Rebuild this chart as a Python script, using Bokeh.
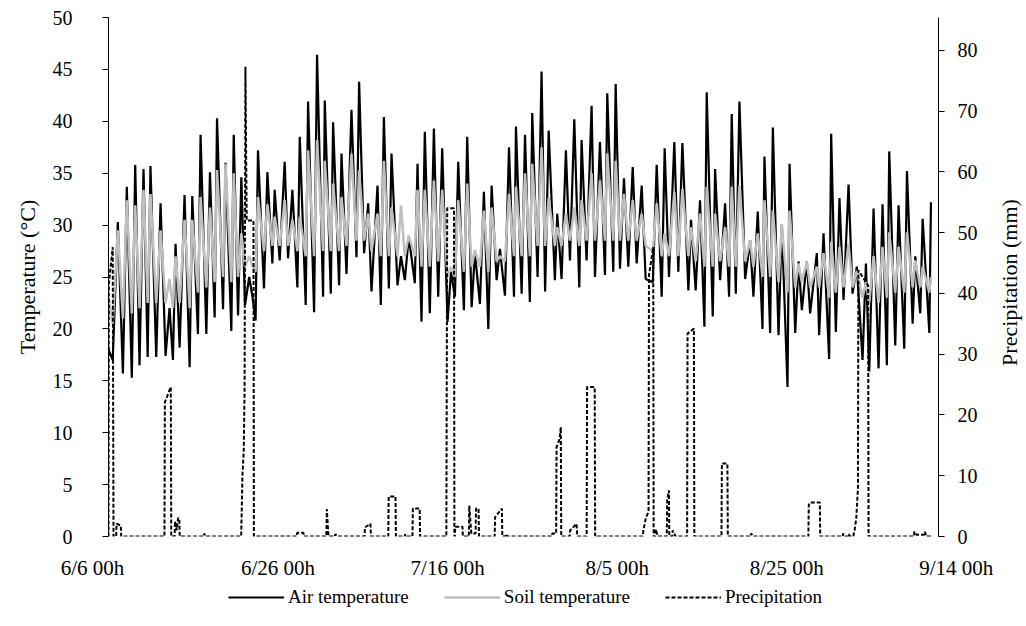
import math
from bokeh.plotting import figure
from bokeh.layouts import column, row
from bokeh.models import Range1d, LinearAxis, FixedTicker, Legend, LegendItem, ColumnDataSource
from bokeh.core.properties import value
from bokeh.embed import file_html
from bokeh.resources import INLINE

# time in days since 6/6 00h (extremes of the daily cycle)
t_days = [0.0, 0.5, 1.1, 1.7, 2.16, 2.75, 3.15, 3.66, 4.13, 4.62, 4.95, 5.63, 6.14, 6.73, 7.2, 7.6,
          7.91, 8.39, 8.97, 9.57, 9.88, 10.55, 10.86, 11.54, 11.97, 12.52, 12.8, 13.51, 13.8, 14.49,
          14.77, 15.28, 15.67, 16.1, 16.6, 17.0, 17.35, 17.63, 18.34, 18.74, 19.33, 19.6, 20.19, 20.78,
          21.18, 21.69, 22.28, 22.56, 23.26, 23.54, 24.25, 24.6, 25.31, 25.51, 26.22, 26.49, 27.2, 27.48,
          28.07, 28.66, 29.25, 29.56, 30.15, 30.63, 31.02, 31.73, 32.12, 32.48, 33.07, 33.38, 34.09, 34.5,
          34.95, 35.42, 36.13, 36.45, 36.92, 37.31, 37.9, 38.38, 38.89, 39.36, 39.99, 40.4, 40.86, 41.25,
          41.92, 42.31, 42.83, 43.22, 43.81, 44.28, 44.8, 45.19, 45.78, 46.17, 46.76, 47.24, 47.83, 48.06,
          48.73, 49.13, 49.7, 49.98, 50.61, 51.08, 51.5, 51.92, 52.65, 52.93, 53.44, 53.95, 54.43, 54.94,
          55.53, 55.8, 56.39, 56.98, 57.38, 57.97, 58.56, 58.83, 59.54, 59.82, 60.33, 60.8, 61.31, 61.83,
          62.3, 62.89, 63.36, 64.2, 64.66, 65.25, 65.6, 66.11, 66.74, 67.21, 67.69, 68.4, 68.71, 69.26,
          69.77, 70.29, 70.56, 71.27, 71.55, 72.14, 72.73, 73.2, 73.51, 73.99, 74.42, 75.09, 75.68, 76.07,
          76.58, 77.14, 77.37, 78.04, 78.36, 79.03, 79.42, 80.09, 80.33, 81.0, 81.39, 81.78, 82.37, 82.76,
          83.55, 83.82, 84.34, 85.0, 85.24, 85.79, 86.22, 86.7, 87.29, 87.76, 88.27, 88.94, 89.34, 89.73,
          90.24, 90.83, 91.3, 91.81, 92.09, 92.8, 93.19, 93.86, 94.18, 94.85, 95.16, 95.75, 96.03, 96.82,
          97.01]

air_temp = [18.0, 17.0, 30.3, 15.7, 33.7, 15.3, 35.8, 16.5, 35.4, 17.3, 35.7, 17.3, 32.1, 17.4, 22.0, 17.0,
            28.2, 18.2, 32.9, 16.3, 32.8, 19.5, 38.7, 19.5, 35.1, 21.1, 40.3, 21.9, 36.0, 19.8,
            38.7, 21.3, 34.6, 22.3, 25.0, 23.0, 20.8, 37.2, 23.9, 35.1, 26.3, 33.4, 26.6, 36.1,
            26.8, 33.4, 24.0, 38.5, 22.3, 41.9, 21.6, 46.4, 23.1, 42.0, 23.4, 39.9, 24.2, 36.9,
            25.3, 41.1, 26.9, 43.8, 27.3, 32.1, 23.6, 33.8, 22.3, 40.4, 23.9, 36.9, 24.2, 27.0,
            24.7, 28.9, 24.4, 35.9, 20.7, 39.0, 21.5, 39.3, 23.1, 37.4, 20.7, 25.5, 23.1, 36.1,
            21.8, 38.5, 22.1, 27.3, 22.4, 33.2, 20.0, 33.8, 24.7, 27.7, 23.2, 37.5, 23.1, 39.5,
            23.4, 38.7, 22.6, 40.8, 25.0, 44.8, 23.6, 39.1, 24.7, 31.1, 24.8, 37.2, 26.6, 40.2,
            24.0, 38.2, 26.6, 41.5, 25.0, 38.0, 25.2, 42.7, 25.5, 43.6, 25.8, 34.5, 26.0, 35.6,
            26.3, 33.8, 24.8, 24.5, 35.8, 23.1, 37.4, 25.0, 38.0, 25.5, 37.9, 23.7, 30.5, 23.7,
            32.4, 20.2, 42.8, 21.2, 35.4, 24.7, 32.1, 23.1, 40.7, 23.4, 41.9, 24.8, 28.5, 23.1,
            31.3, 20.0, 36.6, 19.6, 39.4, 19.4, 30.1, 14.4, 35.9, 19.6, 26.5, 21.8, 26.5, 21.5,
            27.3, 19.4, 29.2, 17.1, 38.8, 19.7, 32.6, 22.8, 33.9, 23.4, 26.0, 17.0, 26.3, 15.9,
            31.6, 16.2, 32.0, 16.5, 37.1, 18.4, 31.9, 18.1, 35.2, 20.5, 27.0, 21.5, 30.6, 19.6,
            32.2]

soil_temp = [23.0, 20.5, 29.5, 21.0, 32.4, 21.5, 31.9, 22.0, 33.4, 22.5, 33.0, 22.5, 29.5, 22.5, 24.8, 22.0,
             27.0, 22.5, 30.5, 22.0, 30.5, 23.5, 32.7, 24.0, 31.7, 24.5, 35.3, 25.0, 35.9, 24.5,
             35.0, 25.0, 29.2, 26.0, 27.0, 26.0, 25.5, 32.7, 27.5, 32.0, 28.0, 30.8, 28.0, 32.4,
             28.0, 30.5, 27.5, 30.8, 27.0, 37.2, 27.0, 38.2, 27.5, 36.2, 27.5, 34.0, 27.5, 32.7,
             28.0, 36.9, 28.5, 35.3, 28.5, 31.1, 27.5, 31.1, 27.0, 36.2, 27.0, 31.7, 27.0, 31.9,
             27.0, 29.0, 27.0, 33.4, 26.0, 33.4, 26.0, 34.3, 26.5, 33.4, 25.0, 26.0, 25.0, 32.4,
             25.5, 34.0, 26.0, 27.6, 26.0, 31.4, 25.5, 31.7, 26.5, 27.0, 26.5, 33.0, 27.0, 33.7,
             27.0, 35.0, 27.0, 35.9, 28.0, 37.5, 28.0, 32.6, 28.0, 29.8, 28.0, 31.1, 28.5, 31.7,
             28.0, 32.4, 28.5, 35.0, 28.5, 34.3, 28.5, 36.9, 28.5, 36.2, 28.5, 33.0, 28.5, 32.4,
             28.5, 31.1, 28.0, 27.5, 32.1, 27.0, 29.2, 27.0, 33.2, 27.0, 33.5, 27.0, 29.8, 26.5,
             31.1, 26.0, 33.7, 26.0, 31.1, 26.5, 29.8, 26.0, 33.7, 26.0, 33.8, 26.5, 28.5, 26.0,
             29.2, 25.0, 32.4, 25.0, 31.4, 24.5, 30.1, 23.5, 31.4, 24.0, 26.3, 24.5, 26.5, 24.0,
             26.0, 24.0, 27.3, 23.0, 28.4, 23.5, 27.9, 24.0, 28.2, 24.0, 25.6, 23.0, 24.5, 22.5,
             27.0, 22.5, 27.9, 23.0, 29.3, 23.5, 27.9, 23.5, 29.3, 24.0, 26.6, 24.0, 26.0, 23.5,
             25.0]

precip_days = [0.0, 0.04, 0.5, 0.59, 0.9, 0.95, 1.45, 1.5, 6.6, 6.65, 7.35, 7.4, 7.8, 7.85, 8.05, 8.2,
               8.35, 8.4, 11.25, 11.3, 11.4, 15.65, 15.8, 15.95, 16.05, 16.15, 16.3, 17.1, 17.15,
               22.2, 22.25, 23.0, 23.05, 25.7, 25.75, 25.9, 25.95, 26.7, 26.75, 26.95, 30.2, 30.25,
               30.9, 30.95, 33.0, 33.05, 33.85, 33.9, 34.95, 35.0, 35.1, 35.85, 35.9, 36.7, 36.75,
               39.85, 39.95, 40.75, 40.8, 40.85, 40.9, 41.75, 41.8, 42.5, 42.55, 42.8, 43.3, 43.35,
               43.65, 43.7, 45.55, 45.6, 46.4, 46.45, 46.8, 46.85, 47.1, 52.3, 52.35, 52.8, 52.85,
               53.2, 53.35, 53.4, 54.4, 54.45, 55.2, 55.3, 56.4, 56.45, 57.35, 57.4, 63.0, 63.1,
               63.4, 63.7, 63.75, 64.25, 64.3, 64.5, 64.55, 64.8, 65.85, 65.9, 66.1, 66.15, 66.5,
               66.55, 66.9, 68.25, 68.3, 69.05, 69.1, 72.3, 72.35, 73.0, 73.05, 75.75, 75.8, 76.0,
               82.55, 82.6, 82.75, 83.9, 83.95, 86.6, 86.65, 86.8, 87.2, 87.25, 87.5, 87.85, 88.0,
               88.2, 88.4, 88.45, 89.6, 89.65, 95.0, 95.05, 95.3, 96.2, 96.3, 96.45, 97.1]
precip_mm = [0, 41.6, 47.6, 0, 0, 2.1, 1.8, 0, 0, 22.1, 24.6, 0, 0, 2.5, 1.0, 3.0,
             3.0, 0, 0, 0.5, 0, 0, 10.0, 14.0, 24.0, 77.3, 52.0, 52.0, 0,
             0, 0.6, 0.6, 0, 0, 4.5, 1.0, 0, 0, 0.4, 0, 0, 1.5,
             2.1, 0, 0, 6.6, 6.6, 0, 0, 0.4, 0, 0, 4.6, 4.6, 0,
             0, 54.0, 54.0, 0, 0, 1.6, 1.6, 0, 0, 5.1, 0.5, 0.5, 4.6,
             4.6, 0, 0, 3.2, 4.6, 0, 0, 0.4, 0, 0, 0.5, 0.5, 14.7,
             16.0, 18.0, 0, 0, 1.0, 2.1, 0, 0, 24.6, 24.6, 0, 0, 1.0,
             3.2, 4.0, 43.0, 47.6, 0, 0, 1.2, 0, 0, 6.0, 7.6, 0, 0,
             1.0, 0, 0, 33.4, 34.2, 0, 0, 12.0, 12.0, 0, 0, 0.5, 0,
             0, 5.2, 5.6, 5.6, 0, 0, 0.5, 0, 0, 0.4, 0, 0, 1.0,
             3.0, 8.0, 43.8, 41.3, 0, 0, 0.8, 0.3, 0.3, 0.8, 0, 0]

tick_days = [0, 20, 40, 60, 80, 100]
tick_labels = ["6/6 00h", "6/26 00h", "7/16 00h", "8/5 00h", "8/25 00h", "9/14 00h"]
series_names = ["Air temperature", "Soil temperature", "Precipitation"]
y2_title = "Precipitation (mm)"

FONT = "Liberation Serif"
W = 1024
H1, H2 = 552, 66
FRAME_L, FRAME_R, FRAME_T, FRAME_B = 108, 938, 17, 536
W1 = 998              # main figure width (right axis ticks + labels inside)
W3 = W - W1           # strip holding the right axis title
X_END = 97.9

p = figure(width=W1, height=H1, output_backend="svg", toolbar_location=None,
           x_range=Range1d(0, X_END), y_range=Range1d(0, 50),
           min_border_left=FRAME_L, min_border_right=W1 - FRAME_R, min_border_top=FRAME_T,
           min_border_bottom=H1 - FRAME_B)
p.outline_line_color = None
p.xgrid.visible = False
p.ygrid.visible = False
p.xaxis.visible = False
p.extra_y_ranges = {"precip": Range1d(0, 85.4)}

yl = p.yaxis[0]
yl.ticker = FixedTicker(ticks=[0, 5, 10, 15, 20, 25, 30, 35, 40, 45, 50])
yl.minor_tick_line_color = None
yl.major_tick_in = 0
yl.major_tick_out = 6
yl.axis_line_color = "black"
yl.major_tick_line_color = "black"
yl.major_label_standoff = 30
yl.major_label_text_font = FONT
yl.major_label_text_font_size = "20px"
yl.major_label_text_color = "black"
yl.axis_label = "Temperature (°C)"
yl.axis_label_text_font = FONT
yl.axis_label_text_font_style = "normal"
yl.axis_label_text_font_size = "22px"
yl.axis_label_text_color = "black"
yl.axis_label_standoff = 10

yr = LinearAxis(y_range_name="precip", ticker=FixedTicker(ticks=[0, 10, 20, 30, 40, 50, 60, 70, 80]))
yr.minor_tick_line_color = None
yr.major_tick_in = 0
yr.major_tick_out = 6
yr.major_label_standoff = 13
yr.major_label_text_font = FONT
yr.major_label_text_font_size = "20px"
yr.major_label_text_color = "black"
yr.axis_line_color = "black"
yr.major_tick_line_color = "black"
p.add_layout(yr, "right")

p.line(t_days, air_temp, line_color="black", line_width=2.2)
p.line(t_days, soil_temp, line_color="#BFBFBF", line_width=2.5)
p.line(precip_days, precip_mm, line_color="black", line_width=2, line_dash="4 2",
       y_range_name="precip")

# right-hand strip: secondary axis title, reading bottom to top
p3 = figure(width=W3, height=H1, output_backend="svg", toolbar_location=None,
            x_range=Range1d(0, W3), y_range=Range1d(0, H1),
            min_border=0, min_border_left=0, min_border_right=0, min_border_top=0,
            min_border_bottom=0)
p3.outline_line_color = None
p3.axis.visible = False
p3.grid.visible = False
p3.text(x=[11], y=[H1 - 282], text=[y2_title], angle=math.pi / 2,
        text_align="center", text_baseline="middle",
        text_font=value(FONT), text_font_size=value("22px"), text_color="black")

# strip below the plot: date labels and legend, on the same day scale
k = (FRAME_R - FRAME_L) / X_END
p2 = figure(width=W, height=H2, output_backend="svg", toolbar_location=None,
            x_range=Range1d(-FRAME_L / k, X_END + (W - FRAME_R) / k), y_range=Range1d(0, H2),
            min_border=0, min_border_left=0, min_border_right=0, min_border_top=0,
            min_border_bottom=0)
p2.outline_line_color = None
p2.axis.visible = False
p2.grid.visible = False

src = ColumnDataSource(dict(x=tick_days, y=[H2 - (567 - H1)] * len(tick_days), t=tick_labels,
                            dx=[-16, 0, 0, 0, 0, 0]))
p2.text(x="x", y="y", text="t", x_offset="dx", source=src, text_align="center",
        text_baseline="middle", text_font=value(FONT), text_font_size=value("21px"),
        text_color="black")

# legend samples (kept below the visible y range of the strip)
hidden = dict(x=[0, 1], y=[-50, -50])
l1 = p2.line(x=hidden["x"], y=hidden["y"], line_color="black", line_width=2.2)
l2 = p2.line(x=hidden["x"], y=hidden["y"], line_color="#BFBFBF", line_width=2.5)
l3 = p2.line(x=hidden["x"], y=hidden["y"], line_color="black", line_width=2, line_dash="4 2")
legend = Legend(items=[LegendItem(label=series_names[0], renderers=[l1]),
                       LegendItem(label=series_names[1], renderers=[l2]),
                       LegendItem(label=series_names[2], renderers=[l3])],
                location=(228, H2 - (598 - H1) - 10), orientation="horizontal",
                glyph_width=56, glyph_height=20, label_height=20, label_standoff=4, spacing=35,
                padding=0, margin=0, border_line_color=None, background_fill_alpha=0,
                label_text_font=FONT, label_text_font_size="19px", label_text_color="black")
p2.add_layout(legend, "center")

for fig in (p, p2, p3):
    if "frame_align" in fig.properties():
        fig.frame_align = False

layout = column(row(p, p3, spacing=0), p2, spacing=0)
open("out.html", "w").write(file_html(layout, INLINE))
